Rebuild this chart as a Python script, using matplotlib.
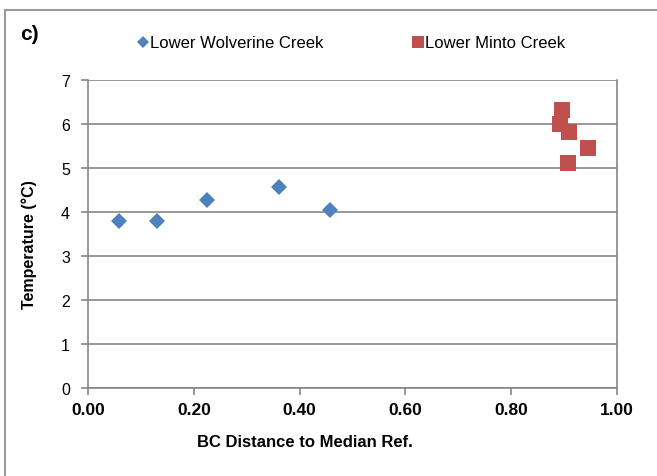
import matplotlib.pyplot as plt
from matplotlib.lines import Line2D

plt.rcParams['font.family'] = ['Liberation Sans', 'DejaVu Sans']

# data
wolverine_x = [0.059, 0.131, 0.225, 0.362, 0.457]
wolverine_y = [3.80, 3.80, 4.27, 4.56, 4.05]
minto_x = [0.896, 0.893, 0.910, 0.945, 0.908]
minto_y = [6.32, 6.00, 5.83, 5.45, 5.11]

x_ticks = [0.0, 0.2, 0.4, 0.6, 0.8, 1.0]
y_ticks = [0, 1, 2, 3, 4, 5, 6, 7]

blue = '#4F81BD'
red = '#C0504D'
grid_col = '#868686'

fig = plt.figure(figsize=(6.57, 4.77), dpi=100)
ax = fig.add_axes([0.134, 0.1845, 0.805, 0.6455])

ax.plot(wolverine_x, wolverine_y, 'D', color=blue, markersize=8.5,
        markeredgewidth=0, label='Lower Wolverine Creek', zorder=3)
ax.plot(minto_x, minto_y, 's', color=red, markersize=12,
        markeredgewidth=0, label='Lower Minto Creek', zorder=3)

ax.set_xlim(0, 1)
ax.set_ylim(0, 7)
ax.set_xticks(x_ticks)
ax.set_xticklabels(['%.2f' % v for v in x_ticks], fontweight='bold', fontsize=12.5)
ax.set_yticks(y_ticks)
ax.set_yticklabels([str(v) for v in y_ticks], fontsize=11.5)

ax.grid(axis='y', color=grid_col, linewidth=1.2)
ax.set_axisbelow(True)
for s in ['left', 'bottom']:
    ax.spines[s].set_color(grid_col)
    ax.spines[s].set_linewidth(1.2)
ax.spines['top'].set_visible(False)
ax.spines['right'].set_color(grid_col)
ax.spines['right'].set_linewidth(1.2)
ax.tick_params(axis='both', direction='out', color=grid_col, length=5, width=1.2)
ax.tick_params(axis='x', pad=5)
ax.tick_params(axis='y', pad=8)

ax.set_xlabel('BC Distance to Median Ref.', fontweight='bold', fontsize=12)
ax.xaxis.set_label_coords(0.410, -0.150)
ax.set_ylabel('Temperature (°C)', fontweight='bold', fontsize=11.5)
ax.yaxis.set_label_coords(-0.097, 0.468)

fig.legend(loc='center left', bbox_to_anchor=(0.187, 0.908), ncol=2, frameon=False,
           fontsize=12, handlelength=0.6, handletextpad=0.15, columnspacing=5.35,
           markerscale=0.7)

fig.text(0.030, 0.927, 'c)', fontweight='bold', fontsize=15, va='center')

# outer frame (cropped on the right and bottom)
fig.add_artist(Line2D([0.008, 1.0], [0.977, 0.977], color='#9a9a9a', linewidth=1.5))
fig.add_artist(Line2D([0.008, 0.008], [0.0, 0.977], color='#9a9a9a', linewidth=1.5))

fig.savefig('out.png', dpi=100)
